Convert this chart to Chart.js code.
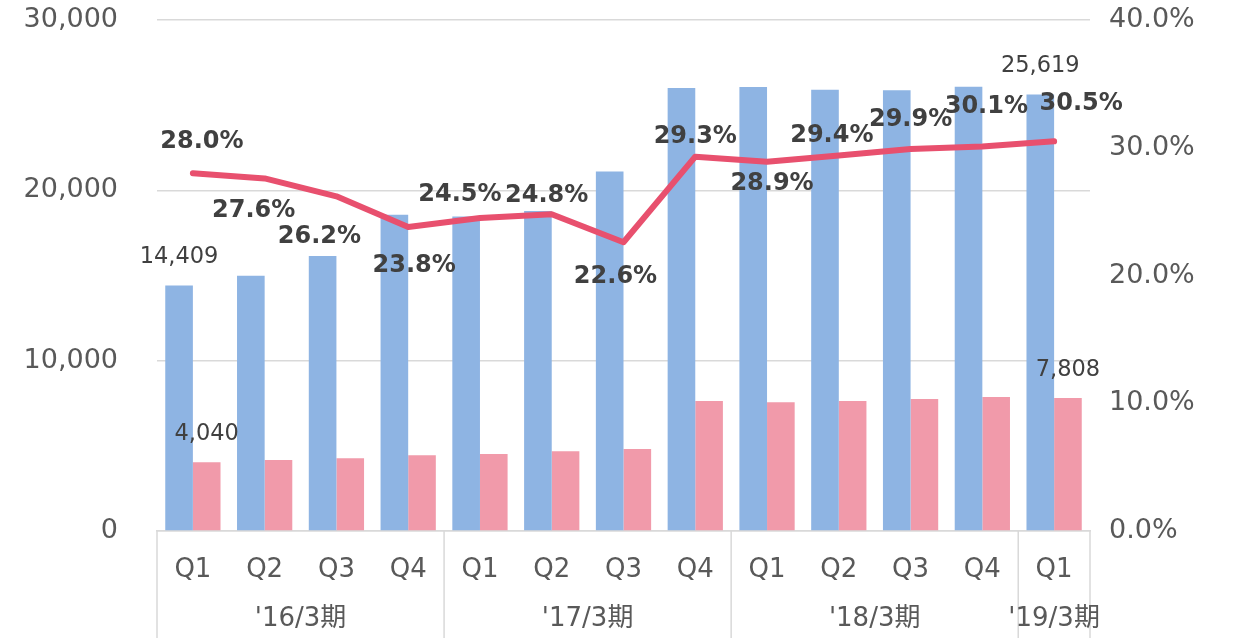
<!DOCTYPE html>
<html><head><meta charset="utf-8">
<script src="https://cdn.jsdelivr.net/npm/chart.js@4.4.1/dist/chart.umd.min.js"></script>
<style>html,body{margin:0;padding:0;background:#fff}#wrap{width:1234px;height:638px}</style>
</head><body><div id="wrap"><canvas id="c" width="1234" height="638"></canvas></div>
<script>
const quarters = ['Q1','Q2','Q3','Q4','Q1','Q2','Q3','Q4','Q1','Q2','Q3','Q4','Q1'];
const fiscalYears = ["'16/3期","'17/3期","'18/3期","'19/3期"];
const fiscalYearQuarterCounts = [4,4,4,1];
const revenue = [14409,14990,16150,18570,18460,18790,21100,26010,26060,25900,25880,26080,25619];
const profit = [4040,4170,4270,4445,4520,4680,4815,7634,7555,7634,7751,7868,7808];
const margin = [28.0,27.6,26.2,23.8,24.5,24.8,22.6,29.3,28.9,29.4,29.9,30.1,30.5];
const valueLabelIndexes = [0,12];
const marginLabelOffsets = [[9,-32],[-11,32],[-17,40],[6,39],[-20,-23],[-5,-18],[-8,34],[0,-20],[5,22],[-7,-20],[0,-29],[4,-40],[27,-38]];

const FONT = "'DejaVu Sans','Noto Sans CJK JP',sans-serif";
const fmtInt = v => Math.round(v).toLocaleString('en-US');

const overlay = {
  id: 'overlay',
  afterDatasetsDraw(chart) {
    const ctx = chart.ctx;
    ctx.save();
    ctx.font = '22.5px ' + FONT;
    ctx.fillStyle = '#404040';
    ctx.textAlign = 'center';
    ctx.textBaseline = 'middle';
    [0,1].forEach(di => {
      const meta = chart.getDatasetMeta(di);
      const ds = chart.data.datasets[di].data;
      valueLabelIndexes.forEach(i => {
        const el = meta.data[i];
        ctx.fillText(fmtInt(ds[i]), el.x, el.y - 28);
      });
    });
    ctx.font = 'bold 24px ' + FONT;
    const lm = chart.getDatasetMeta(2);
    margin.forEach((v, i) => {
      const el = lm.data[i];
      const o = marginLabelOffsets[i];
      ctx.fillText(v.toFixed(1) + '%', el.x + o[0], el.y + o[1]);
    });
    ctx.restore();
  },
  afterDraw(chart) {
    const ctx = chart.ctx, x = chart.scales.x, area = chart.chartArea;
    ctx.save();
    const half = (x.getPixelForValue(1) - x.getPixelForValue(0)) / 2;
    const bounds = [x.getPixelForValue(0) - half];
    let idx = 0;
    fiscalYearQuarterCounts.forEach(n => { idx += n; bounds.push(x.getPixelForValue(idx - 1) + half); });
    ctx.strokeStyle = '#d9d9d9';
    ctx.lineWidth = 1.5;
    bounds.forEach(b => {
      ctx.beginPath();
      ctx.moveTo(b, area.bottom);
      ctx.lineTo(b, chart.height);
      ctx.stroke();
    });
    ctx.font = '26px ' + FONT;
    ctx.fillStyle = '#595959';
    ctx.textAlign = 'center';
    ctx.textBaseline = 'middle';
    fiscalYears.forEach((g, i) => {
      ctx.fillText(g, (bounds[i] + bounds[i + 1]) / 2, area.bottom + 88);
    });
    ctx.restore();
  }
};

new Chart(document.getElementById('c'), {
  type: 'bar',
  data: {
    labels: quarters,
    datasets: [
      { label: 'revenue', data: revenue, backgroundColor: '#8EB4E3', yAxisID: 'y', order: 2, categoryPercentage: 0.77, barPercentage: 1.0 },
      { label: 'profit', data: profit, backgroundColor: '#F19AAA', yAxisID: 'y', order: 2, categoryPercentage: 0.77, barPercentage: 1.0 },
      { label: 'margin', type: 'line', data: margin, yAxisID: 'y1', order: 0, borderColor: '#E8506E', borderWidth: 6, pointRadius: 0, tension: 0, borderCapStyle: 'round', borderJoinStyle: 'round', fill: false }
    ]
  },
  options: {
    responsive: false,
    animation: false,
    devicePixelRatio: 1,
    layout: { padding: { top: 20, bottom: 0, left: 0, right: 0 } },
    plugins: { legend: { display: false }, tooltip: { enabled: false } },
    scales: {
      x: {
        grid: { display: false, drawTicks: false },
        border: { display: true, color: '#d9d9d9', width: 1.5 },
        ticks: { font: { family: FONT, size: 26 }, color: '#595959', padding: 24, maxRotation: 0, autoSkip: false },
        afterFit(s) { s.height = 107; s.paddingLeft = 0; s.paddingRight = 0; }
      },
      y: {
        position: 'left', min: 0, max: 30000,
        grid: { color: '#d9d9d9', lineWidth: 1.5, drawTicks: false },
        border: { display: false },
        ticks: { stepSize: 10000, font: { family: FONT, size: 27 }, color: '#595959', padding: 39, callback: v => fmtInt(v) },
        afterFit(s) { s.width = 157; s.paddingTop = 0; s.paddingBottom = 0; }
      },
      y1: {
        position: 'right', min: 0, max: 40,
        grid: { display: false, drawTicks: false },
        border: { display: false },
        ticks: { stepSize: 10, font: { family: FONT, size: 27 }, color: '#595959', padding: 19, callback: v => v.toFixed(1) + '%' },
        afterFit(s) { s.width = 144; s.paddingTop = 0; s.paddingBottom = 0; }
      }
    }
  },
  plugins: [overlay]
});
</script>
</body></html>
